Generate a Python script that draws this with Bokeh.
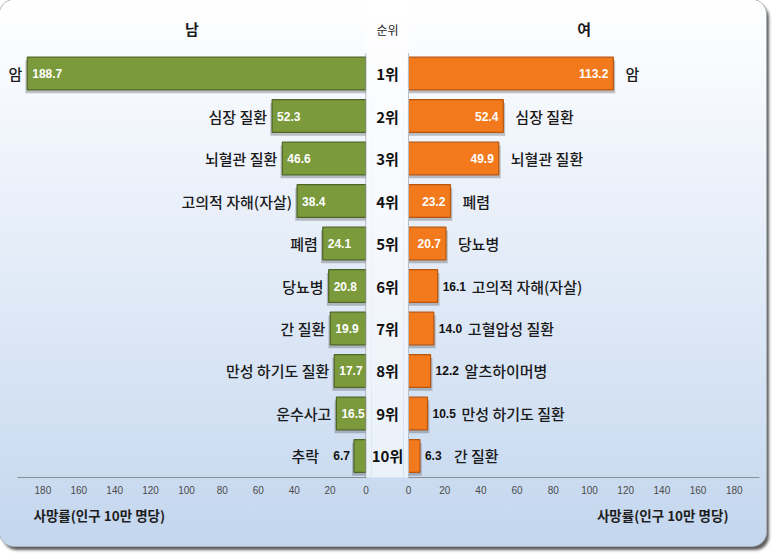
from bokeh.plotting import figure
from bokeh.models import Range1d, FixedTicker, ColumnDataSource, BoxAnnotation
from bokeh.layouts import row
from bokeh.transform import dodge
from bokeh.core.properties import value
from bokeh.embed import file_html
from bokeh.resources import INLINE

# ---------------- data ----------------
rank_labels = ["1위", "2위", "3위", "4위", "5위", "6위", "7위", "8위", "9위", "10위"]
male_causes = ["암", "심장 질환", "뇌혈관 질환", "고의적 자해(자살)", "폐렴", "당뇨병",
               "간 질환", "만성 하기도 질환", "운수사고", "추락"]
male_rates = [188.7, 52.3, 46.6, 38.4, 24.1, 20.8, 19.9, 17.7, 16.5, 6.7]
female_causes = ["암", "심장 질환", "뇌혈관 질환", "폐렴", "당뇨병", "고의적 자해(자살)",
                 "고혈압성 질환", "알츠하이머병", "만성 하기도 질환", "간 질환"]
female_rates = [113.2, 52.4, 49.9, 23.2, 20.7, 16.1, 14.0, 12.2, 10.5, 6.3]
tick_values = [0, 20, 40, 60, 80, 100, 120, 140, 160, 180]
axis_title = "사망률(인구 10만 명당)"
male_title = "남"
female_title = "여"
rank_title = "순위"

# ---------------- styles ----------------
KR = "Noto Sans CJK KR"
KR_MED = "'Noto Sans CJK KR Medium', 'Noto Sans CJK KR'"
NUM = "Liberation Sans"
GREEN = "#7a9a3c"
GREEN_EDGE = "#4f6626"
ORANGE = "#f27a1c"
ORANGE_EDGE = "#b85610"
BAR_H = 0.77
H = 546
FRAME_H = 477
AXIS_MAX = 194

ranks = list(range(1, len(rank_labels) + 1))
y_rng = Range1d(start=10.506, end=-0.718)


def base_fig(width, x_range, **kw):
    p = figure(width=width, height=H, x_range=x_range, y_range=y_rng,
               output_backend="svg", toolbar_location=None,
               min_border_left=0, min_border_right=0, min_border_top=0,
               min_border_bottom=H - FRAME_H, y_axis_location=None, **kw)
    p.background_fill_color = None
    p.border_fill_color = None
    p.outline_line_color = None
    p.grid.visible = False
    return p


def style_axis(p):
    ax = p.xaxis[0]
    ax.ticker = FixedTicker(ticks=tick_values)
    ax.bounds = (0, AXIS_MAX)
    ax.axis_line_color = "#8a8f96"
    ax.axis_line_width = 1
    ax.major_tick_line_color = None
    ax.minor_tick_line_color = None
    ax.major_tick_out = 0
    ax.major_tick_in = 0
    ax.major_label_standoff = 8
    ax.major_label_text_font = NUM
    ax.major_label_text_font_size = "10px"
    ax.major_label_text_color = "#4a4a4a"


def title_style(p, align, offset):
    p.title.text = axis_title
    p.title.align = align
    p.title.offset = offset
    p.title.text_font = KR
    p.title.text_font_size = "13.5px"
    p.title.text_font_style = "bold"
    p.title.text_color = "#1e1e1e"
    p.title.standoff = 13


# ---------------- male (left) ----------------
left = base_fig(371, Range1d(start=203.6, end=-3.06), title_location="below", title=axis_title)
style_axis(left)
title_style(left, "left", 33)
left.add_layout(BoxAnnotation(left=-3.06, right=0, bottom=y_rng.start, top=y_rng.end,
                              fill_color="white", fill_alpha=0.6, line_color=None))

m_inside = [v > 10 for v in male_rates]
msrc = ColumnDataSource(dict(
    rank=ranks, rate=male_rates, cause=male_causes,
    name_off=[-5 if ins else -35 for ins in m_inside],
))
left.hbar(y=dodge("rank", 0.08), left=0, right=dodge("rate", 1.0), height=BAR_H,
          source=msrc, fill_color="#3a3a3a", fill_alpha=0.3, line_color=None)
left.hbar(y="rank", left=0, right="rate", height=BAR_H, source=msrc,
          fill_color=GREEN, line_color=GREEN_EDGE, line_width=1.2)
left.segment(x0=0, y0=1 - BAR_H / 2 - 0.1, x1=0, y1=y_rng.start, line_color="#9aa3ad", line_width=1)

mi = ColumnDataSource(dict(
    rank=[r for r, ins in zip(ranks, m_inside) if ins],
    rate=[v for v, ins in zip(male_rates, m_inside) if ins],
    label=[f"{v:.1f}" for v, ins in zip(male_rates, m_inside) if ins]))
mo = ColumnDataSource(dict(
    rank=[r for r, ins in zip(ranks, m_inside) if not ins],
    rate=[v for v, ins in zip(male_rates, m_inside) if not ins],
    label=[f"{v:.1f}" for v, ins in zip(male_rates, m_inside) if not ins]))
left.text(x="rate", y="rank", text="label", source=mi, x_offset=5, text_align="left",
          text_baseline="middle", text_color="white", text_font=value(NUM),
          text_font_style="bold", text_font_size="12px")
left.text(x="rate", y="rank", text="label", source=mo, x_offset=-4, text_align="right",
          text_baseline="middle", text_color="#111111", text_font=value(NUM),
          text_font_style="bold", text_font_size="12px")
left.text(x="rate", y="rank", text="cause", source=msrc, x_offset="name_off", text_align="right",
          text_baseline="middle", text_color="#1a1a1a", text_font=value(KR_MED),
          text_font_size="15px")
left.text(x=[AXIS_MAX / 2], y=[-0.06], text=[male_title], text_align="center",
          text_baseline="middle", text_color="#1a1a1a", text_font=value(KR),
          text_font_style="bold", text_font_size="15px")

# ---------------- center ranks ----------------
center = base_fig(32, Range1d(0, 1), x_axis_location=None)
center.background_fill_color = "white"
center.background_fill_alpha = 0.6
center.text(x=0.5, y=ranks, text=rank_labels, text_align="center", text_baseline="middle",
            text_color="#111111", text_font=value(KR), text_font_style="bold",
            text_font_size="15px")
center.text(x=[0.5], y=[-0.03], text=[rank_title], text_align="center", text_baseline="middle",
            text_color="#222222", text_font=value(KR), text_font_size="12px")

# ---------------- female (right) ----------------
right = base_fig(363, Range1d(start=-2.76, end=197.8), title_location="below", title=axis_title)
style_axis(right)
title_style(right, "right", 38)
right.add_layout(BoxAnnotation(left=-2.76, right=0, bottom=y_rng.start, top=y_rng.end,
                               fill_color="white", fill_alpha=0.6, line_color=None))

f_inside = [v > 18 for v in female_rates]
fsrc = ColumnDataSource(dict(
    rank=ranks, rate=female_rates, cause=female_causes,
    name_off=[12 if ins else 34 for ins in f_inside],
))
right.hbar(y=dodge("rank", 0.08), left=0, right=dodge("rate", 1.0), height=BAR_H,
           source=fsrc, fill_color="#3a3a3a", fill_alpha=0.3, line_color=None)
right.hbar(y="rank", left=0, right="rate", height=BAR_H, source=fsrc,
           fill_color=ORANGE, line_color=ORANGE_EDGE, line_width=1.2)
right.segment(x0=0, y0=1 - BAR_H / 2 - 0.1, x1=0, y1=y_rng.start, line_color="#9aa3ad", line_width=1)

fi = ColumnDataSource(dict(
    rank=[r for r, ins in zip(ranks, f_inside) if ins],
    rate=[v for v, ins in zip(female_rates, f_inside) if ins],
    label=[f"{v:.1f}" for v, ins in zip(female_rates, f_inside) if ins]))
fo = ColumnDataSource(dict(
    rank=[r for r, ins in zip(ranks, f_inside) if not ins],
    rate=[v for v, ins in zip(female_rates, f_inside) if not ins],
    label=[f"{v:.1f}" for v, ins in zip(female_rates, f_inside) if not ins]))
right.text(x="rate", y="rank", text="label", source=fi, x_offset=-5, text_align="right",
           text_baseline="middle", text_color="white", text_font=value(NUM),
           text_font_style="bold", text_font_size="12px")
right.text(x="rate", y="rank", text="label", source=fo, x_offset=5, text_align="left",
           text_baseline="middle", text_color="#111111", text_font=value(NUM),
           text_font_style="bold", text_font_size="12px")
right.text(x="rate", y="rank", text="cause", source=fsrc, x_offset="name_off", text_align="left",
           text_baseline="middle", text_color="#1a1a1a", text_font=value(KR_MED),
           text_font_size="15px")
right.text(x=[AXIS_MAX / 2], y=[-0.06], text=[female_title], text_align="center",
           text_baseline="middle", text_color="#1a1a1a", text_font=value(KR),
           text_font_style="bold", text_font_size="15px")

layout = row(left, center, right, width=766, height=H, styles={
    "background": "linear-gradient(180deg, #ffffff 0%, #eef3fb 30%, #d6e3f4 70%, #c3d6ee 100%)",
    "border-radius": "14px",
    "box-shadow": "0 0 0 1px #a9b1bb, 3px 4px 3px #5c5c5c",
})

open("out.html", "w").write(file_html(layout, INLINE))
